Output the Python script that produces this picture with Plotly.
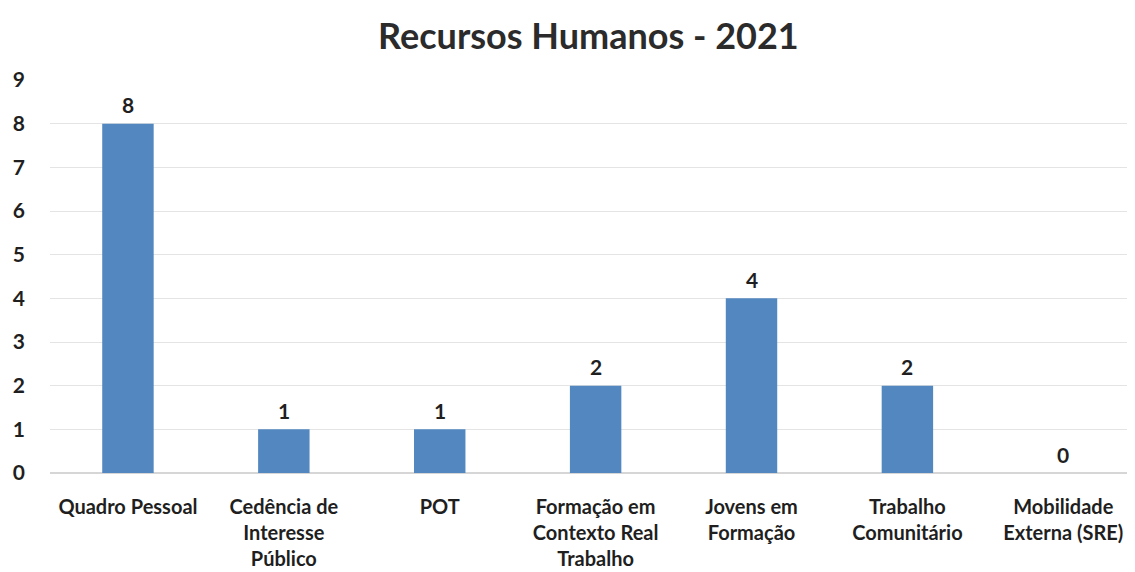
import plotly.graph_objects as go

categories = [
    "Quadro Pessoal",
    "Cedência de<br>Interesse<br>Público",
    "POT",
    "Formação em<br>Contexto Real<br>Trabalho",
    "Jovens em<br>Formação",
    "Trabalho<br>Comunitário",
    "Mobilidade<br>Externa (SRE)",
]
values = [8, 1, 1, 2, 4, 2, 0]
y_ticks = list(range(0, 10))

BAR_COLOR = "#5287bf"
TEXT_COLOR = "#1f1f1f"
FONT = "Lato"

x_pos = list(range(len(categories)))

fig = go.Figure(
    go.Bar(
        x=x_pos,
        y=values,
        marker=dict(color=BAR_COLOR, line=dict(width=0)),
        width=0.33,
        hoverinfo="x+y",
    )
)

# value labels above each bar
for xi, v in zip(x_pos, values):
    fig.add_annotation(
        x=xi,
        y=v,
        text=str(v),
        showarrow=False,
        yanchor="middle",
        yshift=19,
        font=dict(family=FONT, size=21, color=TEXT_COLOR, weight="bold"),
    )

# page body has an 8px margin, so the figure is 8px smaller than the window
fig.update_layout(
    width=1127,
    height=564,
    margin=dict(l=42, r=0, t=72, b=99),
    paper_bgcolor="white",
    plot_bgcolor="white",
    showlegend=False,
    title=dict(
        text="Recursos Humanos - 2021",
        x=0.515,
        xanchor="center",
        y=0.949,
        yanchor="middle",
        font=dict(family=FONT, size=36, color="#2b2b2b", weight="bold"),
    ),
    xaxis=dict(
        range=[-0.5, 6.46],
        tickmode="array",
        tickvals=x_pos,
        ticktext=categories,
        tickfont=dict(family=FONT, size=20, color=TEXT_COLOR, weight="bold"),
        showgrid=False,
        zeroline=False,
        showline=False,
        ticks="",
        ticklabelstandoff=20,
        automargin=False,
    ),
    yaxis=dict(
        range=[0, 9],
        tickvals=y_ticks,
        tickfont=dict(family=FONT, size=21, color=TEXT_COLOR, weight="bold"),
        showgrid=True,
        gridcolor="#e4e4e4",
        gridwidth=1,
        zeroline=True,
        zerolinecolor="#d6d6d6",
        showline=False,
        ticks="",
        ticklabelstandoff=24,
        automargin=False,
    ),
)

fig.write_html("out.html")
